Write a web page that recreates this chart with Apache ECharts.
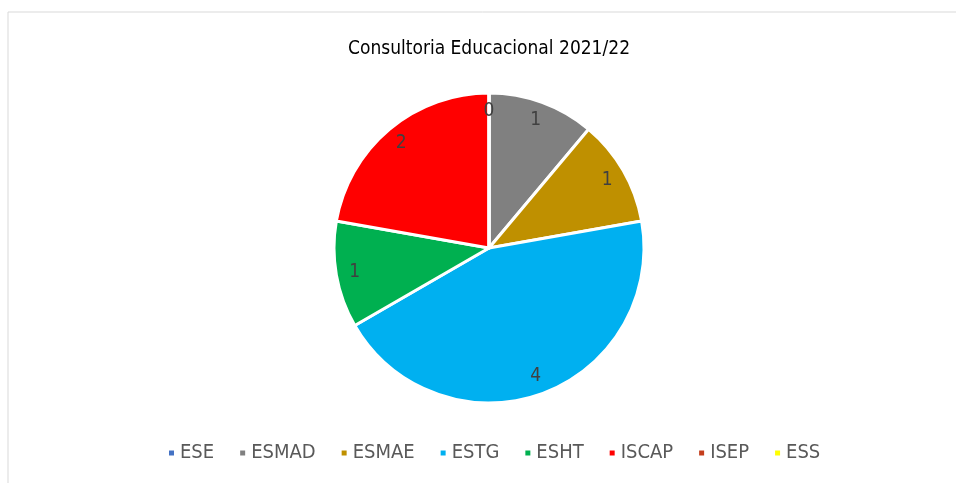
<!DOCTYPE html>
<html>
<head>
<meta charset="utf-8">
<script src="https://cdn.jsdelivr.net/npm/echarts@6/dist/echarts.min.js"></script>
<style>
  html, body { margin: 0; padding: 0; background: #fff; }
  #chart { width: 956px; height: 483px; }
</style>
</head>
<body>
<div id="chart"></div>
<script>
const categories = ["ESE", "ESMAD", "ESMAE", "ESTG", "ESHT", "ISCAP", "ISEP", "ESS"];
const values = [0, 1, 1, 4, 1, 2, 0, 0];
const colors = ["#4472C4", "#808080", "#BF9000", "#00B0F0", "#00B050", "#FF0000", "#C43E1C", "#FFFF00"];

const font = "'DejaVu Sans Condensed', sans-serif";
const data = categories.map((name, i) => ({ name, value: values[i] }));

const chart = echarts.init(document.getElementById("chart"));
chart.setOption({
  color: colors,
  graphic: [{
    type: "rect",
    shape: { x: 8, y: 12, width: 1000, height: 520 },
    style: { fill: "none", stroke: "#d9d9d9", lineWidth: 1 },
    silent: true
  }],
  title: {
    text: "Consultoria Educacional 2021/22",
    left: 343,
    top: 35,
    textStyle: { fontFamily: font, fontSize: 19, fontWeight: "normal", color: "#000" }
  },
  legend: {
    data: categories,
    bottom: 15,
    left: 162,
    icon: "rect",
    itemWidth: 7,
    itemHeight: 7,
    itemGap: 24,
    textStyle: { fontFamily: font, fontSize: 20, color: "#595959" }
  },
  series: [
    {
      type: "pie",
      center: [489, 248],
      radius: [0, 155],
      startAngle: 90,
      clockwise: true,
      silent: true,
      itemStyle: { borderColor: "#fff", borderWidth: 3 },
      label: { show: false },
      labelLine: { show: false },
      data: data
    },
    {
      type: "pie",
      center: [489, 248],
      radius: [112, 155],
      startAngle: 90,
      clockwise: true,
      silent: true,
      itemStyle: { color: "rgba(0,0,0,0)" },
      label: {
        show: true,
        position: "inside",
        formatter: "{c}",
        fontFamily: font,
        fontSize: 19,
        color: "#404040"
      },
      labelLine: { show: false },
      data: data
    }
  ]
});
</script>
</body>
</html>
